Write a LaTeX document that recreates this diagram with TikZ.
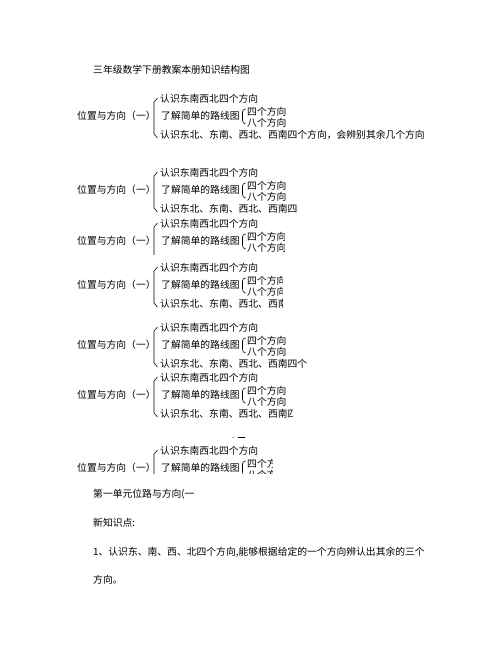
\documentclass[tikz,border=0pt]{standalone}
\usepackage{fontspec}
\newfontfamily\cjk{Noto Sans CJK SC}
\tikzset{
  wenzi/.style={font=\cjk\fontsize{9.8}{10}\selectfont, anchor=west, inner sep=0pt},
  kuohao/.style={line width=0.6pt, line cap=round, line join=round},
}
% one copy of the structure, clipped at the right (#2) and at the bottom (#3)
\newcommand{\jiegoukuai}[3]{%
\begin{scope}
\clip (60,#1-14) rectangle (#2,#3);
\node[wenzi] (zhu) at (77,#1+17) {位置与方向（一）};
\node[wenzi] (dong) at (160,#1) {认识东南西北四个方向};
\node[wenzi] (luxian) at (161,#1+17) {了解简单的路线图};
\node[wenzi] (si) at (247,#1+13) {四个方向};
\node[wenzi] (ba) at (247,#1+24) {八个方向};
\node[wenzi] (dongbei) at (160,#1+36) {认识东北、东南、西北、西南四个方向，会辨别其余几个方向};
\draw[kuohao] (157.5,#1-1) -- (154,#1+3) -- (154,#1+35) -- (157.5,#1+39);
\draw[kuohao] (245.5,#1+10) to[out=180,in=90] (242.5,#1+13) -- (242.5,#1+21) to[out=-90,in=180] (245.5,#1+25);
\end{scope}}
\begin{document}
\begin{tikzpicture}[x=1pt,y=-1pt]
\useasboundingbox (0,0) rectangle (502,649);
\node[wenzi] (biaoti) at (93,70) {三年级数学下册教案本册知识结构图};
\jiegoukuai{99}{440}{145}
\jiegoukuai{173}{296}{214}
\jiegoukuai{224}{284}{254}
\jiegoukuai{268}{282}{312}
\jiegoukuai{328}{306}{368}
\jiegoukuai{378}{292}{418}
\draw[line width=0.7pt, line cap=round] (233,437) -- (233.3,437) (238,437) -- (245,437);
\jiegoukuai{451}{272}{473}
\node[wenzi] (danyuan) at (93,494) {第一单元位路与方向(一};
\node[wenzi] (xinzhi) at (93,523) {新知识点:};
\node[wenzi] (yi) at (93,552) {1、认识东、南、西、北四个方向,能够根据给定的一个方向辨认出其余的三个};
\node[wenzi] (fangxiang) at (93,580) {方向。};
\end{tikzpicture}
\end{document}
